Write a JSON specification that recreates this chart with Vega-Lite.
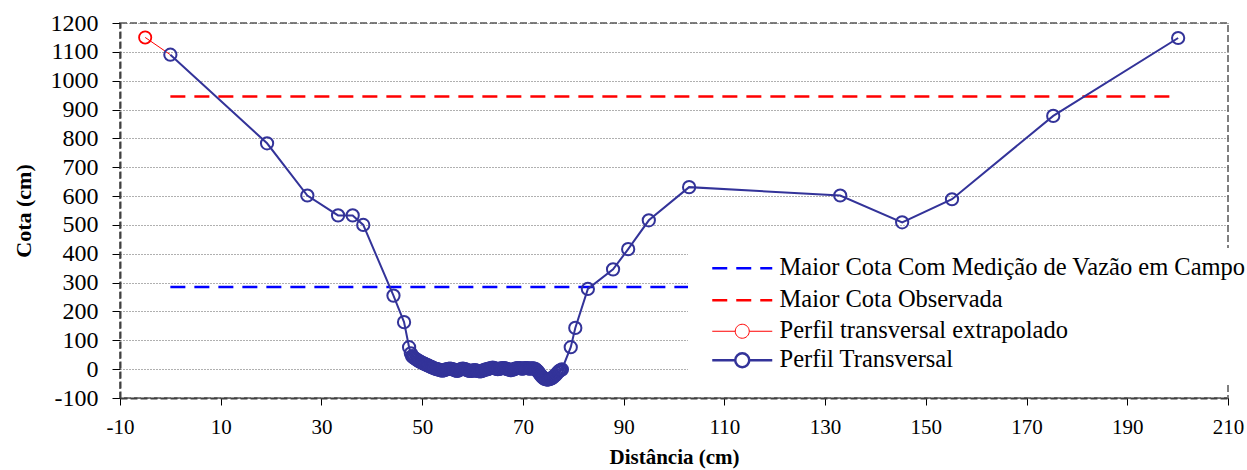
{
  "$schema": "https://vega.github.io/schema/vega-lite/v6.json",
  "width": 1108,
  "height": 375,
  "autosize": {"type": "none"},
  "padding": {"left": 120, "top": 23, "right": 19, "bottom": 72},
  "background": "white",
  "config": {
    "view": {"stroke": "#808080", "strokeWidth": 2, "strokeDash": [7, 3]},
    "font": "Liberation Serif, Times New Roman, serif",
    "axis": {
      "labelFont": "Liberation Serif, Times New Roman, serif",
      "titleFont": "Liberation Serif, Times New Roman, serif",
      "labelColor": "black",
      "titleColor": "black",
      "titleFontWeight": "bold",
      "domainColor": "#404040",
      "domainWidth": 2,
      "domainDash": [7, 3],
      "tickColor": "black",
      "tickWidth": 1
    },
    "legend": {"labelFont": "Liberation Serif, Times New Roman, serif"}
  },
  "datasets": {
    "perfil": [
      {"d": 0, "cota": 1090}, {"d": 19.2, "cota": 783}, {"d": 27.2, "cota": 602}, {"d": 33.3, "cota": 533},
      {"d": 36.2, "cota": 533}, {"d": 38.3, "cota": 500}, {"d": 44.3, "cota": 255}, {"d": 46.4, "cota": 163},
      {"d": 47.4, "cota": 76}, {"d": 47.75, "cota": 55}, {"d": 48.0, "cota": 45}, {"d": 48.25, "cota": 41},
      {"d": 48.5, "cota": 38}, {"d": 48.75, "cota": 35}, {"d": 49.0, "cota": 32}, {"d": 49.25, "cota": 29},
      {"d": 49.5, "cota": 27}, {"d": 49.75, "cota": 24}, {"d": 50.0, "cota": 22}, {"d": 50.25, "cota": 20},
      {"d": 50.5, "cota": 18}, {"d": 50.75, "cota": 16}, {"d": 51.0, "cota": 14}, {"d": 51.25, "cota": 12},
      {"d": 51.5, "cota": 10}, {"d": 51.75, "cota": 8}, {"d": 52.0, "cota": 6}, {"d": 52.25, "cota": 4},
      {"d": 52.5, "cota": 2}, {"d": 52.75, "cota": 1}, {"d": 53.0, "cota": 0}, {"d": 53.25, "cota": -2},
      {"d": 53.5, "cota": -3}, {"d": 53.75, "cota": -4}, {"d": 54.0, "cota": -5}, {"d": 54.25, "cota": -4},
      {"d": 54.5, "cota": -3}, {"d": 54.75, "cota": -1}, {"d": 55.0, "cota": 0}, {"d": 55.25, "cota": 1},
      {"d": 55.5, "cota": 2}, {"d": 55.75, "cota": 1}, {"d": 56.0, "cota": 0}, {"d": 56.25, "cota": -2},
      {"d": 56.5, "cota": -4}, {"d": 56.75, "cota": -5}, {"d": 57.0, "cota": -6}, {"d": 57.25, "cota": -4},
      {"d": 57.5, "cota": -2}, {"d": 57.75, "cota": 0}, {"d": 58.0, "cota": 2}, {"d": 58.25, "cota": 1},
      {"d": 58.5, "cota": 0}, {"d": 58.75, "cota": -2}, {"d": 59.0, "cota": -4}, {"d": 59.25, "cota": -5},
      {"d": 59.5, "cota": -6}, {"d": 59.75, "cota": -6}, {"d": 60.0, "cota": -5}, {"d": 60.25, "cota": -4},
      {"d": 60.5, "cota": -3}, {"d": 60.75, "cota": -5}, {"d": 61.0, "cota": -6}, {"d": 61.25, "cota": -7},
      {"d": 61.5, "cota": -8}, {"d": 61.75, "cota": -7}, {"d": 62.0, "cota": -5}, {"d": 62.25, "cota": -3},
      {"d": 62.5, "cota": -2}, {"d": 62.75, "cota": -1}, {"d": 63.0, "cota": 0}, {"d": 63.25, "cota": 2},
      {"d": 63.5, "cota": 3}, {"d": 63.75, "cota": 4}, {"d": 64.0, "cota": 5}, {"d": 64.25, "cota": 4},
      {"d": 64.5, "cota": 3}, {"d": 64.75, "cota": 1}, {"d": 65.0, "cota": 0}, {"d": 65.25, "cota": 1},
      {"d": 65.5, "cota": 2}, {"d": 65.75, "cota": 3}, {"d": 66.0, "cota": 4}, {"d": 66.25, "cota": 4},
      {"d": 66.5, "cota": 3}, {"d": 66.75, "cota": 1}, {"d": 67.0, "cota": 0}, {"d": 67.25, "cota": -2},
      {"d": 67.5, "cota": -3}, {"d": 67.75, "cota": -3}, {"d": 68.0, "cota": -2}, {"d": 68.25, "cota": 0},
      {"d": 68.5, "cota": 2}, {"d": 68.75, "cota": 3}, {"d": 69.0, "cota": 4}, {"d": 69.25, "cota": 4},
      {"d": 69.5, "cota": 3}, {"d": 69.75, "cota": 2}, {"d": 70.0, "cota": 2}, {"d": 70.25, "cota": 3},
      {"d": 70.5, "cota": 4}, {"d": 70.75, "cota": 4}, {"d": 71.0, "cota": 3}, {"d": 71.25, "cota": 2},
      {"d": 71.5, "cota": 2}, {"d": 71.75, "cota": 3}, {"d": 72.0, "cota": 3}, {"d": 72.25, "cota": 2},
      {"d": 72.5, "cota": 0}, {"d": 72.75, "cota": -4}, {"d": 73.0, "cota": -8}, {"d": 73.25, "cota": -14},
      {"d": 73.5, "cota": -20}, {"d": 73.75, "cota": -25}, {"d": 74.0, "cota": -30}, {"d": 74.25, "cota": -33},
      {"d": 74.5, "cota": -35}, {"d": 74.75, "cota": -36}, {"d": 75.0, "cota": -36}, {"d": 75.25, "cota": -35},
      {"d": 75.5, "cota": -33}, {"d": 75.75, "cota": -31}, {"d": 76.0, "cota": -28}, {"d": 76.25, "cota": -24},
      {"d": 76.5, "cota": -20}, {"d": 76.75, "cota": -15}, {"d": 77.0, "cota": -10}, {"d": 77.25, "cota": -6},
      {"d": 77.5, "cota": -3}, {"d": 77.75, "cota": -1},
      {"d": 79.5, "cota": 76}, {"d": 80.4, "cota": 143}, {"d": 82.9, "cota": 278},
      {"d": 87.9, "cota": 346}, {"d": 90.9, "cota": 416}, {"d": 95.0, "cota": 516}, {"d": 103.0, "cota": 631},
      {"d": 133.0, "cota": 602}, {"d": 145.3, "cota": 509}, {"d": 155.2, "cota": 589}, {"d": 175.3, "cota": 878},
      {"d": 200.1, "cota": 1148}
    ],
    "extrap": [
      {"d": -5, "cota": 1150, "marcador": "sim"},
      {"d": 0, "cota": 1090, "marcador": "nao"}
    ],
    "niveis": [
      {"d": 0, "cota": 285, "serie": "Maior Cota Com Medição de Vazão em Campo"},
      {"d": 200, "cota": 285, "serie": "Maior Cota Com Medição de Vazão em Campo"},
      {"d": 0, "cota": 945, "serie": "Maior Cota Observada"},
      {"d": 200, "cota": 945, "serie": "Maior Cota Observada"}
    ]
  },
  "encoding": {
    "x": {
      "field": "d", "type": "quantitative",
      "scale": {"domain": [-10, 210], "nice": false, "zero": false},
      "axis": {
        "title": "Distância (cm)", "titleFontSize": 21, "labelFontSize": 21,
        "labelExpr": "'' + datum.value",
        "values": [-10, 10, 30, 50, 70, 90, 110, 130, 150, 170, 190, 210],
        "grid": false, "tickSize": 7, "labelPadding": 11, "titlePadding": 9, "labelFlush": false
      }
    },
    "y": {
      "field": "cota", "type": "quantitative",
      "scale": {"domain": [-100, 1200], "nice": false, "zero": false},
      "axis": {
        "title": "Cota (cm)", "titleFontSize": 22, "labelFontSize": 24,
        "labelExpr": "'' + datum.value",
        "values": [-100, 0, 100, 200, 300, 400, 500, 600, 700, 800, 900, 1000, 1100, 1200],
        "grid": true, "gridColor": "#606060", "gridDash": [1, 2], "gridWidth": 1,
        "tickSize": 8, "labelPadding": 14, "titlePadding": 15
      }
    }
  },
  "layer": [
    {
      "data": {"name": "niveis"},
      "transform": [{"filter": "datum.serie == 'Maior Cota Com Medição de Vazão em Campo'"}],
      "mark": {"type": "line", "strokeWidth": 2.5, "strokeDash": [15, 9]},
      "encoding": {
        "color": {
          "field": "serie", "type": "nominal",
          "scale": {
            "domain": ["Maior Cota Com Medição de Vazão em Campo", "Maior Cota Observada", "Perfil transversal extrapolado", "Perfil Transversal"],
            "range": ["#0000FF", "#FF0000", "#FF0000", "#333399"]
          },
          "legend": {
            "orient": "none", "legendX": 568, "legendY": 225, "title": null,
            "fillColor": "white", "padding": 8, "rowPadding": 3,
            "labelFont": "Liberation Serif, Times New Roman, serif", "labelFontSize": 24.5, "labelColor": "black", "labelLimit": 0,
            "symbolSize": 400, "symbolOffset": 34, "labelOffset": 25,
            "encode": {
              "symbols": {
                "update": {
                  "shape": {"signal": "indexof(datum.value, 'Perfil') === 0 ? 'M0,-0.9M0,0.9M-3,0L-0.7,0M0.7,0L3,0M-0.7,0A0.7,0.7,0,1,1,0.7,0A0.7,0.7,0,1,1,-0.7,0' : 'M0,-0.9M0,0.9M-3,0L3,0'"},
                  "strokeDash": {"signal": "indexof(datum.value, 'Maior') === 0 ? [15, 9] : []"},
                  "strokeWidth": {"signal": "datum.value == 'Perfil transversal extrapolado' ? 1 : 2.5"},
                  "fill": {"value": "white"},
                  "fillOpacity": {"value": 1},
                  "opacity": {"value": 1}
                }
              }
            }
          }
        }
      }
    },
    {
      "data": {"name": "niveis"},
      "transform": [{"filter": "datum.serie == 'Maior Cota Observada'"}],
      "mark": {"type": "line", "strokeWidth": 2.5, "strokeDash": [15, 9]},
      "encoding": {"color": {"field": "serie", "type": "nominal"}}
    },
    {
      "data": {"name": "extrap"},
      "transform": [{"calculate": "'Perfil transversal extrapolado'", "as": "serie"}],
      "mark": {"type": "line", "strokeWidth": 1},
      "encoding": {"color": {"field": "serie", "type": "nominal"}}
    },
    {
      "data": {"name": "extrap"},
      "transform": [{"filter": "datum.marcador == 'sim'"}, {"calculate": "'Perfil transversal extrapolado'", "as": "serie"}],
      "mark": {"type": "point", "shape": "circle", "filled": false, "size": 150, "strokeWidth": 1.8, "opacity": 1},
      "encoding": {"color": {"field": "serie", "type": "nominal"}}
    },
    {
      "data": {"name": "perfil"},
      "transform": [{"calculate": "'Perfil Transversal'", "as": "serie"}],
      "mark": {"type": "line", "strokeWidth": 2},
      "encoding": {"color": {"field": "serie", "type": "nominal"}}
    },
    {
      "data": {"name": "perfil"},
      "transform": [{"calculate": "'Perfil Transversal'", "as": "serie"}],
      "mark": {"type": "point", "shape": "circle", "filled": false, "size": 150, "strokeWidth": 2, "opacity": 1},
      "encoding": {"color": {"field": "serie", "type": "nominal"}}
    }
  ]
}
